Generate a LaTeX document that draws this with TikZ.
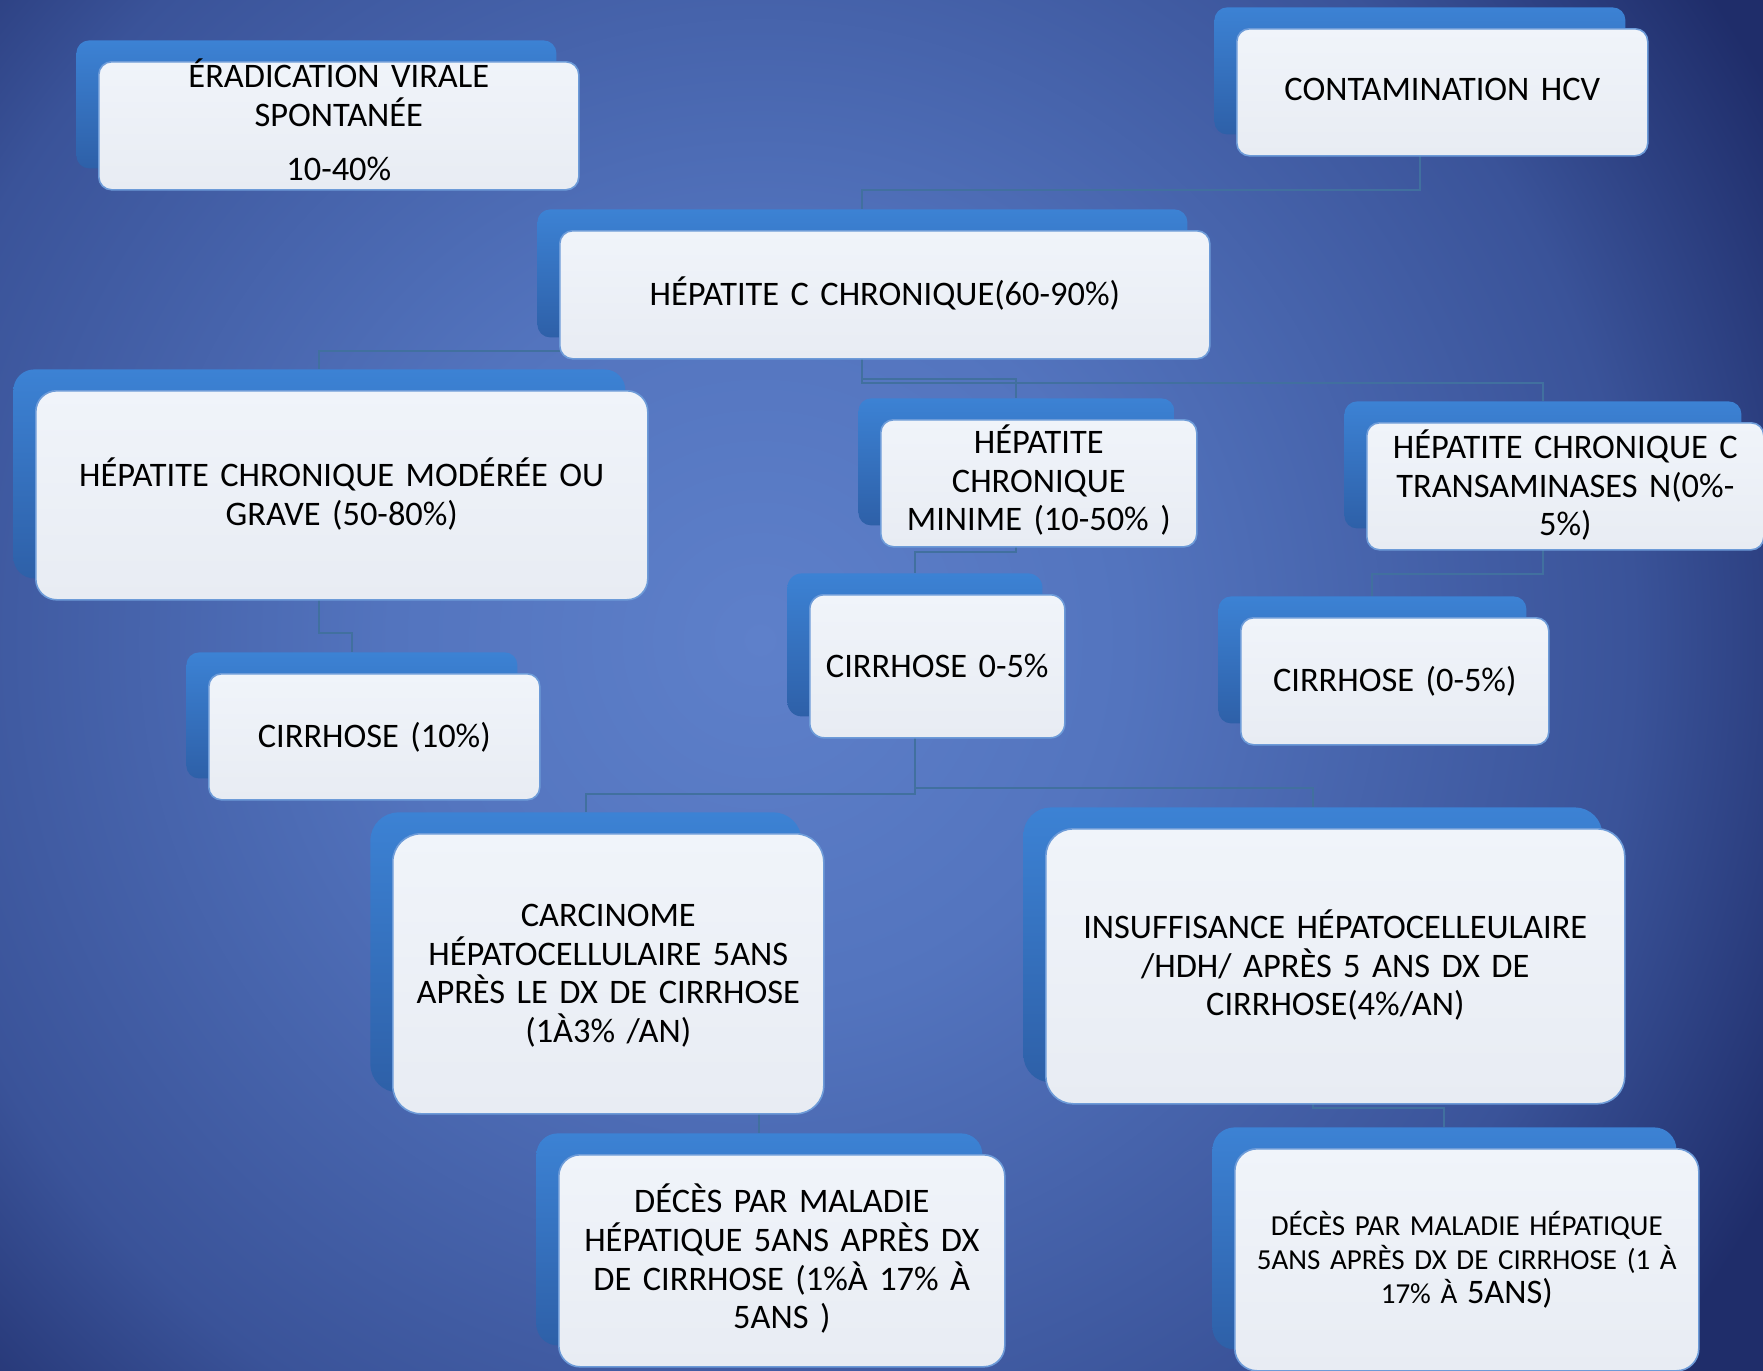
\documentclass[tikz,border=0pt]{standalone}
\usepackage{fontspec}
\setmainfont{Carlito}
\definecolor{bgA}{HTML}{5E80CA}
\definecolor{bgB}{HTML}{5374BE}
\definecolor{bgC}{HTML}{3A5399}
\definecolor{bgD}{HTML}{1F2D6A}
\definecolor{blueT}{HTML}{3C82D4}
\definecolor{blueB}{HTML}{2E60A8}
\definecolor{whiteT}{HTML}{F0F4FA}
\definecolor{whiteB}{HTML}{E8ECF3}
\definecolor{wbord}{HTML}{6D9BD8}
\definecolor{connC}{HTML}{41709F}
% the path bounding box maps to the inner 25bp radius of the shading;
% the shaded circle has radius 1600 px: 368 px ~ 5.75bp, 874 px ~ 13.66bp, 1150 px ~ 17.97bp
\pgfdeclareradialshading{bgshade}{\pgfpoint{0bp}{0bp}}{color(0bp)=(bgA); color(5.75bp)=(bgB); color(13.66bp)=(bgC); color(17.97bp)=(bgD); color(50bp)=(bgD)}
\pgfdeclarelayer{back}
\pgfdeclarelayer{conn}
\pgfsetlayers{back,conn,main}
\newcommand\mainsz{\fontsize{17.2}{19.3}\selectfont}
\newcommand\smallsz{\fontsize{14.5}{17}\selectfont}
\tikzset{
  bluebox/.style={top color=blueT, bottom color=blueB, draw=none, inner sep=0pt},
  whitebox/.style={top color=whiteT, bottom color=whiteB, draw=wbord, line width=0.8pt, inner sep=0pt},
  boxtext/.style={inner sep=0pt, align=center, font=\mainsz, text=black},
  connline/.style={draw=connC, line width=1pt},
}
% name, x, y, w, h (pixels of the reference), text shift (pt), text options, text
\newcommand\mkbox[8]{%
  \pgfmathsetmacro\rcr{0.1*min(#4,#5)*0.5}%
  \pgfmathsetmacro\bw{#4*0.5}%
  \pgfmathsetmacro\bh{#5*0.5}%
  \pgfmathsetmacro\tw{#4*0.5-2}%
  \node[bluebox, rounded corners=\rcr pt, minimum width=\bw pt, minimum height=\bh pt,
        anchor=north west] (#1-b) at (#2,#3) {};
  \node[whitebox, rounded corners=\rcr pt, minimum width=\bw pt, minimum height=\bh pt,
        anchor=north west] (#1) at ([xshift=11pt,yshift=-10.5pt]#1-b.north west) {};
  \node[boxtext, text width=\tw pt, #7] (#1-t) at ([yshift=#6pt]#1.center) {#8};
}
\begin{document}
\begin{tikzpicture}[x=0.5pt,y=-0.5pt]
\useasboundingbox (0,0) rectangle (1763,1371);
\begin{pgfonlayer}{back}
  \begin{scope}
    \clip (0,0) rectangle (1763,1371);
    \shade[shading=bgshade] (760,640) circle (1600);
  \end{scope}
\end{pgfonlayer}

\mkbox{erad}{76}{40}{480}{128}{2.8}{}{ÉRADICATION VIRALE\\SPONTANÉE\\[7.9pt]10-40\%}
\mkbox{contam}{1214}{7}{411}{127}{1.6}{}{CONTAMINATION HCV}
\mkbox{hepc}{537}{209}{650}{128}{0.5}{}{HÉPATITE C CHRONIQUE(60-90\%)}
\mkbox{mod}{13}{369}{612}{209}{0.5}{}{HÉPATITE CHRONIQUE MODÉRÉE OU\\GRAVE (50-80\%)}
\mkbox{mini}{858}{398}{316}{127}{1.5}{}{HÉPATITE\\CHRONIQUE\\MINIME (10-50\% )}
\mkbox{trans}{1344}{401}{397}{127}{0.5}{}{HÉPATITE CHRONIQUE C\\TRANSAMINASES N(0\%-\\5\%)}
\mkbox{cirb}{787}{573}{255}{143}{0}{}{CIRRHOSE 0-5\%}
\mkbox{circ}{1218}{596}{308}{127}{0}{}{CIRRHOSE (0-5\%)}
\mkbox{cira}{186}{652}{331}{126}{0}{}{CIRRHOSE (10\%)}
\mkbox{carc}{370}{812}{431}{280}{-1}{}{CARCINOME\\HÉPATOCELLULAIRE 5ANS\\APRÈS LE DX DE CIRRHOSE\\(1À3\% /AN)}
\mkbox{insuf}{1023}{807}{579}{275}{0.5}{}{INSUFFISANCE HÉPATOCELLEULAIRE\\/HDH/ APRÈS 5 ANS DX DE\\CIRRHOSE(4\%/AN)}
\mkbox{decesa}{536}{1133}{446}{212}{1}{}{DÉCÈS PAR MALADIE\\HÉPATIQUE 5ANS APRÈS DX\\DE CIRRHOSE (1\%À 17\% À\\5ANS )}
\mkbox{decesb}{1212}{1127}{464}{222}{0}{font=\smallsz}{DÉCÈS PAR MALADIE HÉPATIQUE\\5ANS APRÈS DX DE CIRRHOSE (1 À\\17\% À {\fontsize{17.2}{17}\selectfont 5ANS)}}

\begin{pgfonlayer}{conn}
  \draw[connline] (contam-b.south) -- +(0,55) -| (hepc-b.north);
  \draw[connline] (hepc-b.south) -- +(0,13) -| (mod-b.north);
  \draw[connline] (hepc-b.south) -- +(0,41) -| (mini-b.north);
  \draw[connline] (hepc-b.south) -- +(0,45) -| (trans-b.north);
  \draw[connline] (mod-b.south) -- +(0,54) -| (cira-b.north);
  \draw[connline] (mini-b.south) -- +(0,26) -| (cirb-b.north);
  \draw[connline] (trans-b.south) -- +(0,45) -| (circ-b.north);
  \draw[connline] (cirb-b.south) -- +(0,77) -| (carc-b.north);
  \draw[connline] (cirb-b.south) -- +(0,71) -| (insuf-b.north);
  \draw[connline] (carc-b.south) -- +(0,20) -| (decesa-b.north);
  \draw[connline] (insuf-b.south) -- +(0,25) -| (decesb-b.north);
\end{pgfonlayer}
\end{tikzpicture}
\end{document}
